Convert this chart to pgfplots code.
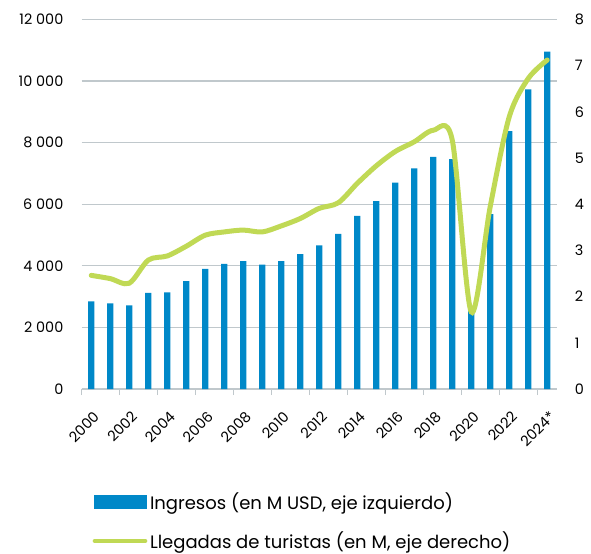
\documentclass[border=0pt]{standalone}
\usepackage{pgfplots}
\pgfplotsset{compat=1.18}
\usepackage{fontspec}
\setmainfont{Poppins}

\definecolor{barblue}{RGB}{0,136,200}
\definecolor{linegreen}{RGB}{192,217,85}
\definecolor{gridgray}{RGB}{192,200,204}

\pgfplotstableread{
x  ingresos llegadas
0  2850  2.46
1  2780  2.39
2  2720  2.29
3  3120  2.79
4  3140  2.88
5  3500  3.09
6  3900  3.33
7  4060  3.40
8  4150  3.44
9  4040  3.40
10 4150  3.53
11 4380  3.69
12 4660  3.91
13 5040  4.03
14 5620  4.45
15 6100  4.83
16 6700  5.14
17 7160  5.35
18 7540  5.60
19 7460  5.39
20 2650  1.67
21 5680  3.95
22 8370  5.89
23 9730  6.72
24 10950 7.12
}\datatable

\pgfplotsset{
  common/.style={
    scale only axis,
    width=356.25pt, height=277.3pt,
    xmin=-0.5, xmax=24.5,
    scaled y ticks=false,
    /pgf/number format/assume math mode=true,
    /pgf/number format/1000 sep={\ },
    ticklabel style={font=\fontsize{10.8}{13}\selectfont},
  },
}

\begin{document}
\begin{tikzpicture}
\begin{axis}[
  common,
  name=main,
  ymin=0, ymax=12000,
  ytick={0,2000,...,12000},
  axis x line*=bottom,
  axis y line*=left,
  y axis line style={draw=none},
  x axis line style={gridgray, line width=1pt},
  ytick style={draw=none},
  yticklabel style={xshift=-6pt},
  xtick={0,2,...,24},
  xticklabels={2000,2002,2004,2006,2008,2010,2012,2014,2016,2018,2020,2022,2024*},
  major x tick style={draw=none},
  minor xtick={-0.5,1.5,...,23.5},
  minor x tick style={gridgray, line width=1pt},
  minor tick length=4.5pt,
  tick align=outside,
  xticklabel style={anchor=north east, inner sep=0pt,
    font=\fontsize{10.8}{13}\selectfont, xshift=1pt, yshift=-11.5pt, rotate=45},
  ymajorgrids,
  grid style={gridgray, line width=1pt},
  ybar, bar width=4.7pt,
]
  \addplot[fill=barblue, draw=none] table[x=x, y=ingresos] {\datatable};
\end{axis}
\begin{axis}[
  common,
  ymin=0, ymax=8,
  ytick={0,1,...,8},
  axis x line=none,
  axis y line*=right,
  y axis line style={draw=none},
  ytick style={draw=none},
  yticklabel style={xshift=10pt},
  legend style={at={(0,0)}, anchor=north west, xshift=5pt, yshift=-73.5pt,
    draw=none, fill=none, row sep=11pt,
    font=\fontsize{13.5}{16}\selectfont},
  legend cell align=left,
]
  \addlegendimage{legend image code/.code={\fill[barblue] (0pt,-4.75pt) rectangle (39pt,4.75pt);}}
  \addlegendentry{Ingresos (en M USD, eje izquierdo)}
  \addplot[linegreen, line width=3.75pt, smooth, line cap=round,
    legend image code/.code={\draw[linegreen, line width=3pt, line cap=round] (0.5pt,0pt) -- (38.5pt,0pt);}]
    table[x=x, y=llegadas] {\datatable};
  \addlegendentry{Llegadas de turistas (en M, eje derecho)}
\end{axis}
\pgfresetboundingbox
\path[use as bounding box] ([xshift=-61.3pt,yshift=-123pt]main.south west) rectangle ([xshift=25.7pt,yshift=14.5pt]main.north east);
\end{tikzpicture}
\end{document}
